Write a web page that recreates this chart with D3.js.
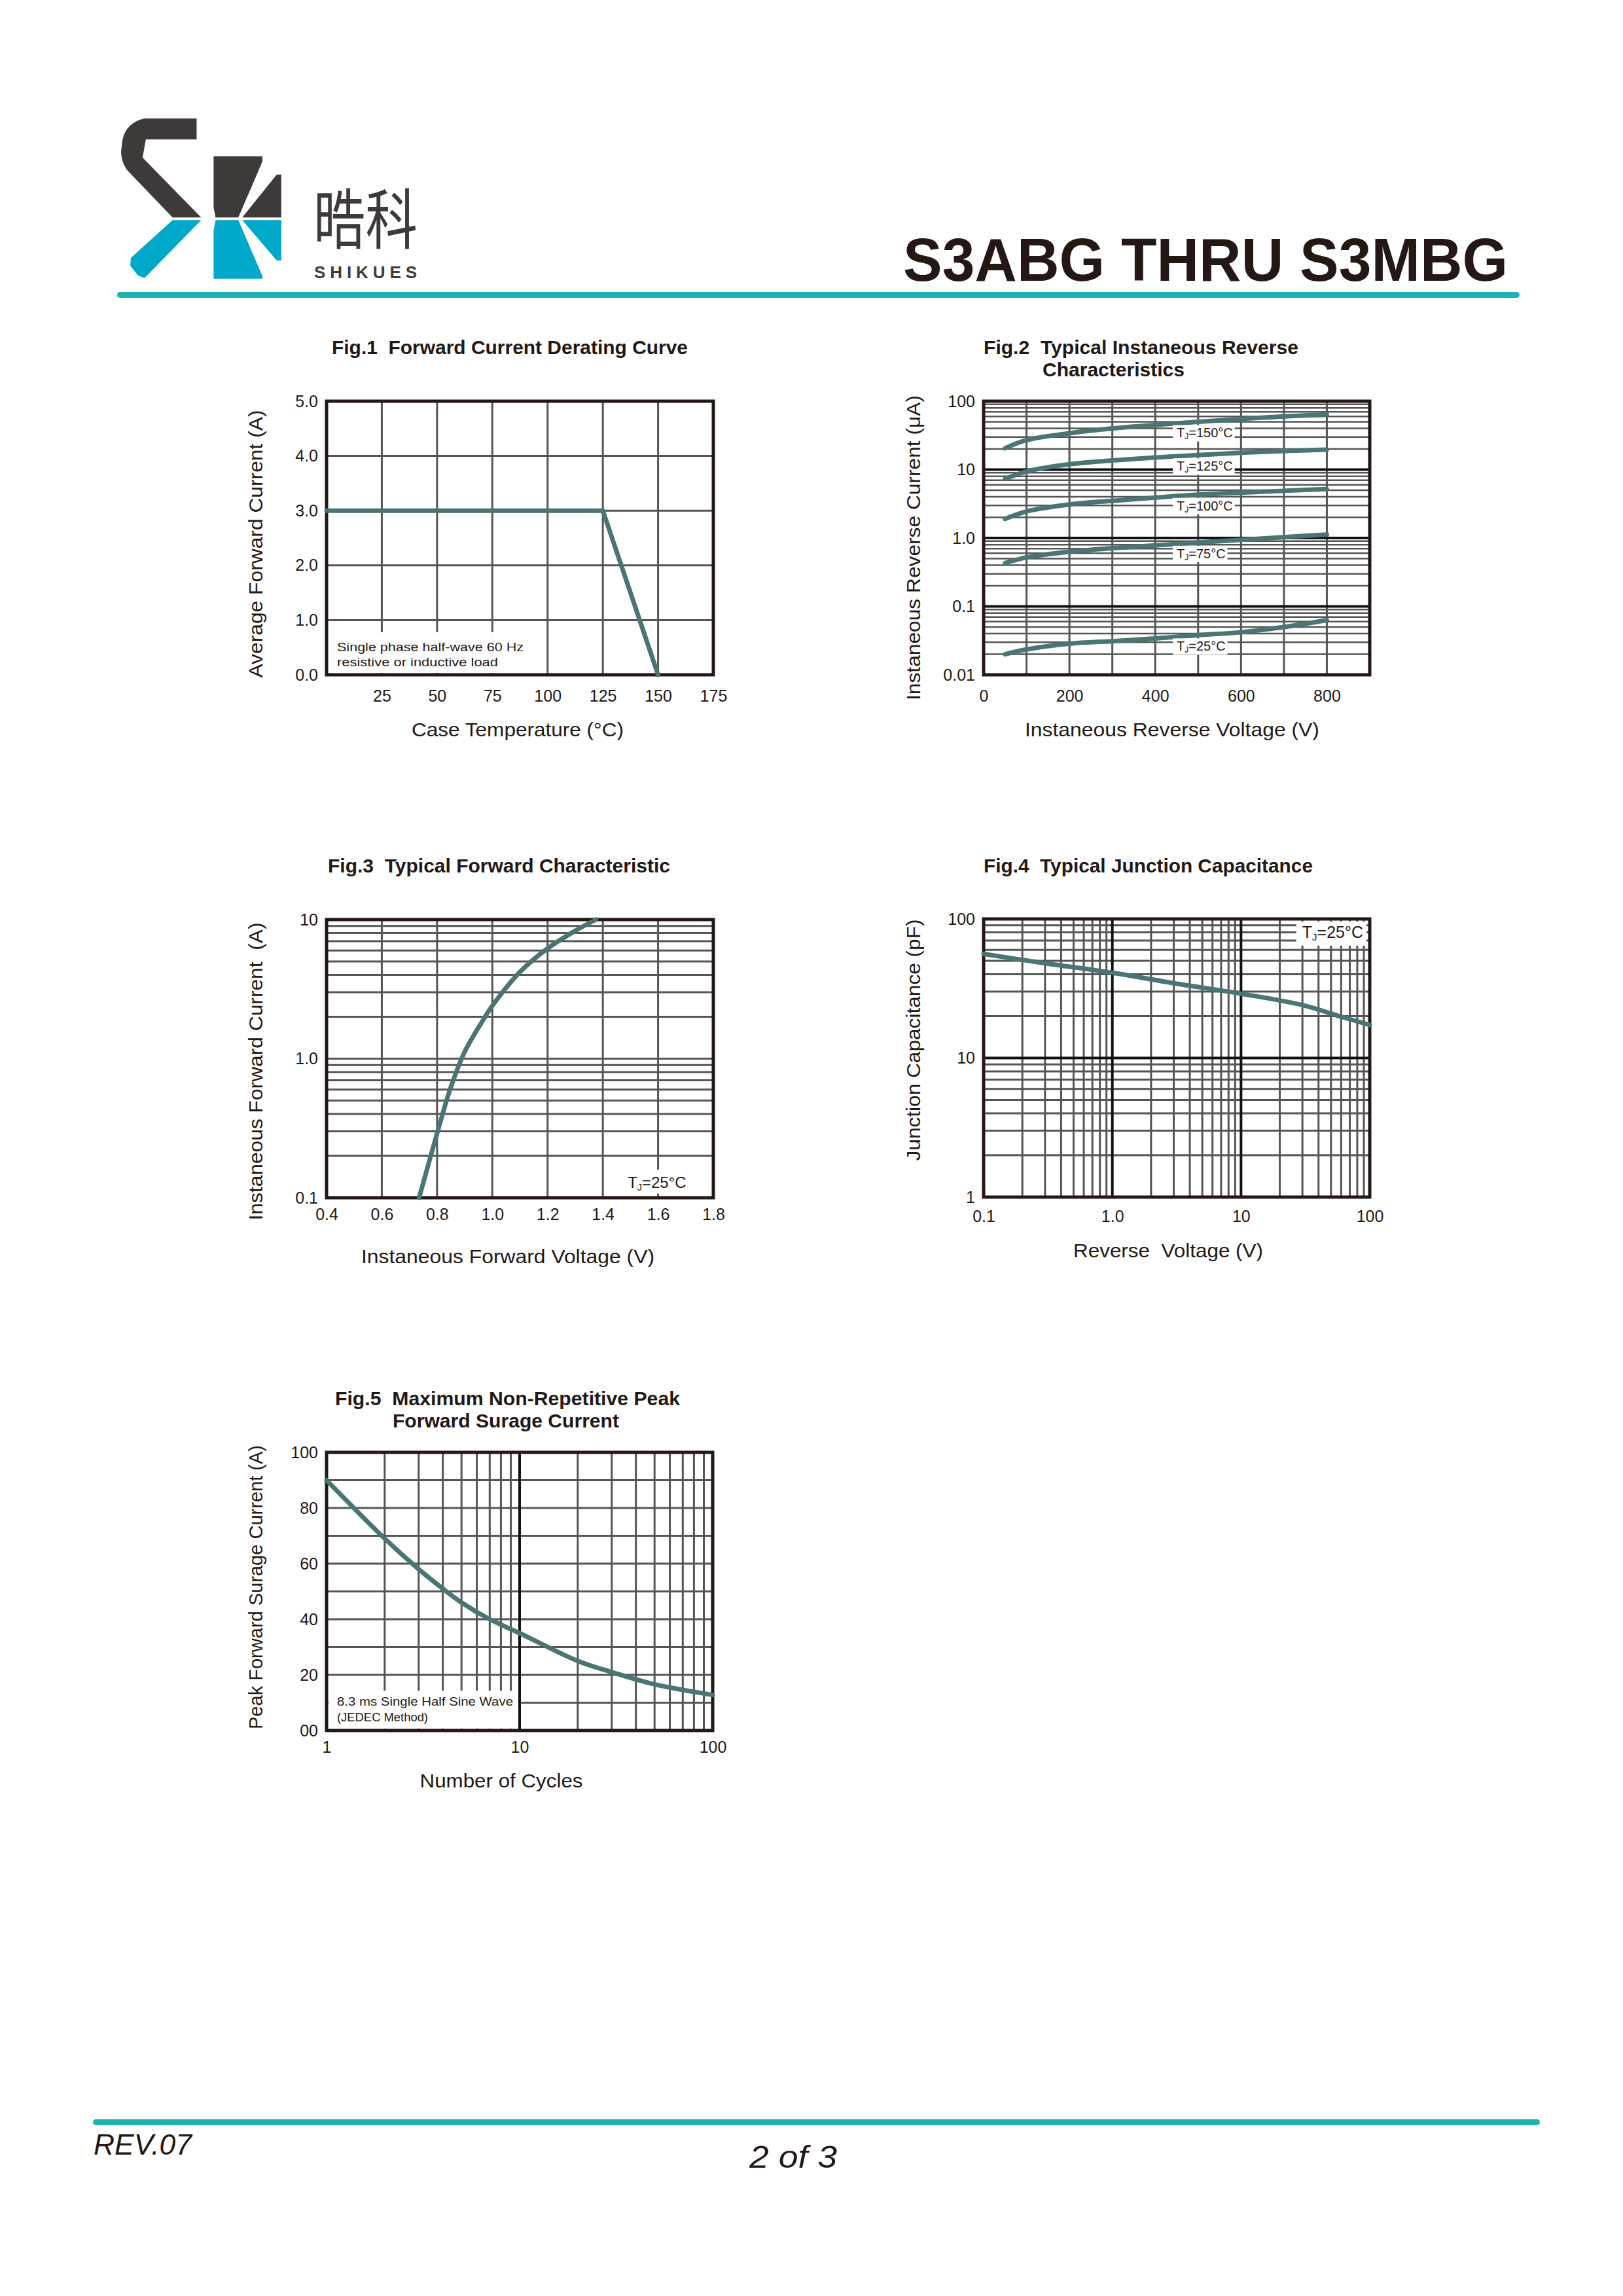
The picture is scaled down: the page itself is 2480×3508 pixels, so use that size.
<!DOCTYPE html>
<meta charset="utf-8">
<script src="https://cdn.jsdelivr.net/npm/d3@7"></script>
<style>
  body { margin: 0; background: #fff; }
  text { font-family: "Liberation Sans", Arial, sans-serif; fill: #231815; white-space: pre; }
  .tick text { font-size: 25px; }
</style>
<body>
<script>

// Fig.1 forward current derating
var derateTemp = [0, 125, 150];
var derateAmps = [3, 3, 0];
var fig1XTicks = [25, 50, 75, 100, 125, 150, 175];
var fig1YTicks = [0, 1, 2, 3, 4, 5];
var fig1YLabels = ["0.0", "1.0", "2.0", "3.0", "4.0", "5.0"];

// Fig.2 reverse characteristics (uA) per junction temperature
var revVolts = [50, 100, 200, 300, 400, 500, 600, 700, 800];
var revTemps = ["150", "125", "100", "75", "25"];
var rev150 = [20.5, 27, 34, 40, 45, 50, 55, 60, 64];
var rev125 = [7.3, 9.4, 12, 13.6, 15, 16.3, 17.6, 18.7, 19.6];
var rev100 = [1.9, 2.45, 3.1, 3.5, 3.9, 4.3, 4.6, 4.9, 5.2];
var rev75 = [0.43, 0.52, 0.63, 0.71, 0.78, 0.86, 0.94, 1.03, 1.12];
var rev25 = [0.02, 0.0235, 0.0285, 0.031, 0.034, 0.038, 0.042, 0.05, 0.063];
var fig2XTicks = [0, 200, 400, 600, 800];
var fig2YTicks = [0.01, 0.1, 1, 10, 100];
var fig2YLabels = ["0.01", "0.1", "1.0", "10", "100"];

// Fig.3 forward characteristic
var fwdVolts = [0.735, 0.8, 0.847, 0.9, 0.967, 1.0, 1.1, 1.2, 1.3, 1.375];
var fwdAmps = [0.1, 0.29, 0.6, 1.12, 1.9, 2.4, 4.2, 6.2, 8.3, 10];
var fig3XTicks = [0.4, 0.6, 0.8, 1.0, 1.2, 1.4, 1.6, 1.8];
var fig3XLabels = ["0.4", "0.6", "0.8", "1.0", "1.2", "1.4", "1.6", "1.8"];
var fig3YTicks = [0.1, 1, 10];
var fig3YLabels = ["0.1", "1.0", "10"];

// Fig.4 junction capacitance
var capVolts = [0.1, 0.3, 1, 3, 10, 30, 60, 100];
var capPf = [56, 48, 41, 34.5, 29, 24, 19.8, 17.3];
var fig4XTicks = [0.1, 1, 10, 100];
var fig4XLabels = ["0.1", "1.0", "10", "100"];
var fig4YTicks = [1, 10, 100];
var fig4YLabels = ["1", "10", "100"];

// Fig.5 surge current
var cycles = [1, 2, 3, 4, 5, 7, 10, 20, 30, 50, 100];
var surgeAmps = [90, 69, 58, 51, 46, 40, 35, 25, 21, 16.6, 12.8];
var fig5XTicks = [1, 10, 100];
var fig5YTicks = [0, 20, 40, 60, 80, 100];
var fig5YLabels = ["00", "20", "40", "60", "80", "100"];

var ink = "#231815", grid = "#555", curve = "#4b7572", teal = "#1bb3b3";

var svg = d3.select("body").append("svg")
    .attr("width", 2480)
    .attr("height", 3508);
svg.append("rect").attr("width", 2480).attr("height", 3508).attr("fill", "#fff");

// ---------- header ----------
var logo = svg.append("g").attr("transform", "scale(0.995)");
var dark = "#3e3a39", cyan = "#00a8c9";
logo.append("path").attr("fill", dark)
  .attr("d", "M222,182 L302,182 L302,214 L224,214 L219,242 L309,334 L265,334 L196,262 Q186,250 186,232 L188,215 Q194,188 222,182 Z");
logo.append("path").attr("fill", dark)
  .attr("d", "M328,240 L403,240 L403,248 L366,334 L331,334 L328,318 Z");
logo.append("path").attr("fill", dark)
  .attr("d", "M425,268 L432,268 L432,334 L372,334 Z");
logo.append("path").attr("fill", cyan)
  .attr("d", "M265,338 L309,338 L222,427 L212,423 L200,408 L201,396 Z");
logo.append("path").attr("fill", cyan)
  .attr("d", "M331,338 L366,338 L403,424 L403,428 L328,428 L328,354 Z");
logo.append("path").attr("fill", cyan)
  .attr("d", "M372,338 L432,338 L432,400 L425,400 Z");

svg.append("text").attr("x", 479).attr("y", 372)
  .style("font-family", "'Noto Sans CJK SC', sans-serif")
  .style("fill", dark)
  .attr("font-size", 100)
  .attr("textLength", 159).attr("lengthAdjust", "spacingAndGlyphs")
  .text("晧科");
svg.append("text").attr("x", 480).attr("y", 425)
  .style("fill", dark)
  .attr("font-size", 26).attr("font-weight", "bold")
  .attr("textLength", 157).attr("lengthAdjust", "spacing")
  .text("SHIKUES");

svg.append("text").attr("x", 1380).attr("y", 429)
  .attr("font-size", 92).attr("font-weight", "bold")
  .attr("textLength", 924).attr("lengthAdjust", "spacingAndGlyphs")
  .text("S3ABG THRU S3MBG");

svg.append("rect").attr("x", 179).attr("y", 446).attr("width", 2143).attr("height", 9)
  .attr("rx", 4.5).attr("fill", teal);

// ---------- footer ----------
svg.append("rect").attr("x", 142).attr("y", 3238).attr("width", 2211).attr("height", 9)
  .attr("rx", 4.5).attr("fill", teal);
svg.append("text").attr("x", 143).attr("y", 3292)
  .attr("font-size", 45).attr("font-style", "italic")
  .attr("textLength", 150).attr("lengthAdjust", "spacingAndGlyphs")
  .text("REV.07");
svg.append("text").attr("x", 1145).attr("y", 3312)
  .attr("font-size", 48).attr("font-style", "italic")
  .attr("textLength", 134).attr("lengthAdjust", "spacingAndGlyphs")
  .text("2 of 3");

// ---------- helpers ----------
function fitText(x, y, str, size, len, opts) {
  opts = opts || {};
  var t = svg.append("text").attr("x", x).attr("y", y)
    .attr("font-size", size)
    .text(str);
  if (opts.bold) t.attr("font-weight", "bold");
  if (len) t.attr("textLength", len).attr("lengthAdjust", "spacingAndGlyphs");
  if (opts.anchor) t.attr("text-anchor", opts.anchor);
  return t;
}

function yTitle(cx, cy, str, len) {
  svg.append("text")
    .attr("transform", "translate(" + cx + "," + cy + ") rotate(-90)")
    .attr("text-anchor", "middle").attr("dy", "0.35em")
    .attr("font-size", 29)
    .attr("textLength", len).attr("lengthAdjust", "spacingAndGlyphs")
    .text(str);
}

function panel(box) {
  return svg.append("g").attr("transform", "translate(" + box.x + "," + box.y + ")");
}

function vLines(g, x, vals, h, color, sw) {
  g.selectAll(null).data(vals).enter().append("line")
    .attr("x1", function(d) { return x(d); }).attr("x2", function(d) { return x(d); })
    .attr("y1", 0).attr("y2", h)
    .attr("stroke", color).attr("stroke-width", sw);
}

function hLines(g, y, vals, w, color, sw) {
  g.selectAll(null).data(vals).enter().append("line")
    .attr("y1", function(d) { return y(d); }).attr("y2", function(d) { return y(d); })
    .attr("x1", 0).attr("x2", w)
    .attr("stroke", color).attr("stroke-width", sw);
}

function frame(g, box) {
  g.append("rect").attr("width", box.w).attr("height", box.h)
    .attr("fill", "none").attr("stroke", ink).attr("stroke-width", 5);
}

function axes(g, box, x, y, xt, xl, yt, yl, xpad) {
  g.append("g").attr("transform", "translate(0," + box.h + ")")
    .call(d3.axisBottom(x).tickValues(xt)
      .tickFormat(function(d, i) { return xl ? xl[i] : d; })
      .tickSize(0).tickPadding(xpad))
    .call(function(a) { a.select(".domain").remove(); });
  g.append("g")
    .call(d3.axisLeft(y).tickValues(yt)
      .tickFormat(function(d, i) { return yl[i]; })
      .tickSize(0).tickPadding(13))
    .call(function(a) { a.select(".domain").remove(); });
}

function drawCurve(g, xs, ys, x, y, shape) {
  var line = d3.line()
    .x(function(d) { return x(d[0]); })
    .y(function(d) { return y(d[1]); })
    .curve(shape || d3.curveCatmullRom.alpha(0.5));
  g.append("path").datum(d3.zip(xs, ys))
    .attr("d", line)
    .attr("fill", "none").attr("stroke", curve)
    .attr("stroke-width", 7).attr("stroke-linecap", "round")
    .attr("stroke-linejoin", "round");
}

function tjLabel(g, x, y, temp, size, anchor) {
  var t = g.append("text").attr("x", x).attr("y", y)
    .attr("font-size", size).attr("text-anchor", anchor || "start");
  t.append("tspan").text("T");
  t.append("tspan").attr("font-size", size * 0.6).attr("dy", size * 0.15).text("J");
  t.append("tspan").attr("dy", -size * 0.15).text("=" + temp + "°C");
  return t;
}

function whiteBehind(g, t, padL, padR, padT, padB) {
  var b = t.node().getBBox();
  g.insert("rect", function() { return t.node(); })
    .attr("x", b.x - padL).attr("y", b.y - padT)
    .attr("width", b.width + padL + padR).attr("height", b.height + padT + padB)
    .attr("fill", "#fff");
}

// ---------- Fig.1 ----------
var b1 = {x: 499, y: 613, w: 591, h: 418};
var g1 = panel(b1);
var x1 = d3.scaleLinear().domain([0, 175]).range([0, b1.w]);
var y1 = d3.scaleLinear().domain([0, 5]).range([b1.h, 0]);
vLines(g1, x1, fig1XTicks.slice(0, 6), b1.h, grid, 3);
hLines(g1, y1, fig1YTicks.slice(1, 5), b1.w, grid, 3);
g1.append("rect").attr("x", x1(0) + 3).attr("y", y1(0.78))
  .attr("width", x1(95) - x1(0) - 3).attr("height", y1(0) - y1(0.78) - 3)
  .attr("fill", "#fff");
g1.append("text").attr("x", 16).attr("y", 382).attr("font-size", 19)
  .attr("textLength", 285).attr("lengthAdjust", "spacingAndGlyphs")
  .text("Single phase half-wave 60 Hz");
g1.append("text").attr("x", 16).attr("y", 405).attr("font-size", 19)
  .attr("textLength", 246).attr("lengthAdjust", "spacingAndGlyphs")
  .text("resistive or inductive load");
frame(g1, b1);
axes(g1, b1, x1, y1, fig1XTicks, null, fig1YTicks, fig1YLabels, 23);
drawCurve(g1, derateTemp, derateAmps, x1, y1, d3.curveLinear);

fitText(507, 541, "Fig.1  Forward Current Derating Curve", 30, 544, {bold: true});
yTitle(391, 831, "Average Forward Current (A)", 409);
fitText(791, 1125, "Case Temperature (°C)", 29, 324, {anchor: "middle"});

// ---------- Fig.2 ----------
var b2 = {x: 1503, y: 613, w: 590, h: 418};
var g2 = panel(b2);
var x2 = d3.scaleLinear().domain([0, 900]).range([0, b2.w]);
var y2 = d3.scaleLog().domain([0.01, 100]).range([b2.h, 0]);
vLines(g2, x2, [100, 200, 300, 400, 500, 600, 700, 800], b2.h, grid, 3);
var y2minor = y2.ticks().filter(function(d) { return fig2YTicks.indexOf(d) < 0; });
hLines(g2, y2, y2minor, b2.w, grid, 2.5);
hLines(g2, y2, [0.1, 1, 10], b2.w, "#111", 4);
frame(g2, b2);
axes(g2, b2, x2, y2, fig2XTicks, null, fig2YTicks, fig2YLabels, 23);
var revSeries = [rev150, rev125, rev100, rev75, rev25];
revSeries.forEach(function(s) { drawCurve(g2, revVolts, s, x2, y2); });
revSeries.forEach(function(s, i) {
  var yc = y2(s[revVolts.indexOf(500)]) + 17;
  var t = tjLabel(g2, x2(450), yc + 7, revTemps[i], 20);
  whiteBehind(g2, t, 6, 3, 1, 0);
});

fitText(1503, 541, "Fig.2  Typical Instaneous Reverse", 30, 481, {bold: true});
fitText(1593, 575, "Characteristics", 30, 217, {bold: true});
yTitle(1396, 837, "Instaneous Reverse Current (μA)", 466);
fitText(1791, 1125, "Instaneous Reverse Voltage (V)", 29, 450, {anchor: "middle"});

// ---------- Fig.3 ----------
var b3 = {x: 499, y: 1405, w: 591, h: 425};
var g3 = panel(b3);
var x3 = d3.scaleLinear().domain([0.4, 1.8]).range([0, b3.w]);
var y3 = d3.scaleLog().domain([0.1, 10]).range([b3.h, 0]);
vLines(g3, x3, fig3XTicks.slice(1, 7), b3.h, grid, 3);
hLines(g3, y3, y3.ticks().slice(1, -1), b3.w, grid, 3);
var t3 = tjLabel(g3, x3(1.49), y3(0.1) - 15, "25", 24);
whiteBehind(g3, t3, 2, 2, 6, 2);
frame(g3, b3);
axes(g3, b3, x3, y3, fig3XTicks, fig3XLabels, fig3YTicks, fig3YLabels, 16);
drawCurve(g3, fwdVolts, fwdAmps, x3, y3);

fitText(501, 1333, "Fig.3  Typical Forward Characteristic", 30, 523, {bold: true});
yTitle(391, 1637, "Instaneous Forward Current  (A)", 455);
fitText(776, 1930, "Instaneous Forward Voltage (V)", 29, 448, {anchor: "middle"});

// ---------- Fig.4 ----------
var b4 = {x: 1503, y: 1404, w: 590, h: 425};
var g4 = panel(b4);
var x4 = d3.scaleLog().domain([0.1, 100]).range([0, b4.w]);
var y4 = d3.scaleLog().domain([1, 100]).range([b4.h, 0]);
vLines(g4, x4, x4.ticks().filter(function(d) { return [0.1, 1, 10, 100].indexOf(d) < 0; }), b4.h, grid, 3);
hLines(g4, y4, y4.ticks().filter(function(d) { return [1, 10, 100].indexOf(d) < 0; }), b4.w, grid, 3);
vLines(g4, x4, [1, 10], b4.h, "#111", 4);
hLines(g4, y4, [10], b4.w, "#111", 4);
var t4 = tjLabel(g4, b4.w - 10, 29, "25", 25, "end");
whiteBehind(g4, t4, 9, 5, 2, 5);
frame(g4, b4);
axes(g4, b4, x4, y4, fig4XTicks, fig4XLabels, fig4YTicks, fig4YLabels, 20);
drawCurve(g4, capVolts, capPf, x4, y4);

fitText(1503, 1333, "Fig.4  Typical Junction Capacitance", 30, 503, {bold: true});
yTitle(1396, 1589, "Junction Capacitance (pF)", 369);
fitText(1785, 1921, "Reverse  Voltage (V)", 29, 290, {anchor: "middle"});

// ---------- Fig.5 ----------
var b5 = {x: 499, y: 2219, w: 590, h: 425};
var g5 = panel(b5);
var x5 = d3.scaleLog().domain([1, 100]).range([0, b5.w]);
var y5 = d3.scaleLinear().domain([0, 100]).range([b5.h, 0]);
vLines(g5, x5, x5.ticks().filter(function(d) { return [1, 10, 100].indexOf(d) < 0; }), b5.h, grid, 3);
hLines(g5, y5, y5.ticks(10).slice(1, -1), b5.w, grid, 3);
g5.append("rect").attr("x", 3).attr("y", y5(14.3))
  .attr("width", x5(9.9) - 3).attr("height", y5(0) - y5(14.3) - 3)
  .attr("fill", "#fff");
vLines(g5, x5, [10], b5.h, "#111", 4);
g5.append("text").attr("x", 16).attr("y", 387).attr("font-size", 19)
  .attr("textLength", 269).attr("lengthAdjust", "spacingAndGlyphs")
  .text("8.3 ms Single Half Sine Wave");
g5.append("text").attr("x", 16).attr("y", 411).attr("font-size", 19)
  .attr("textLength", 139).attr("lengthAdjust", "spacingAndGlyphs")
  .text("(JEDEC Method)");
frame(g5, b5);
axes(g5, b5, x5, y5, fig5XTicks, null, fig5YTicks, fig5YLabels, 16);
drawCurve(g5, cycles, surgeAmps, x5, y5);

fitText(512, 2147, "Fig.5  Maximum Non-Repetitive Peak", 30, 527, {bold: true});
fitText(600, 2181, "Forward Surage Current", 30, 346, {bold: true});
yTitle(391, 2425, "Peak Forward Surage Current (A)", 434);
fitText(766, 2731, "Number of Cycles", 29, 249, {anchor: "middle"});

</script>
